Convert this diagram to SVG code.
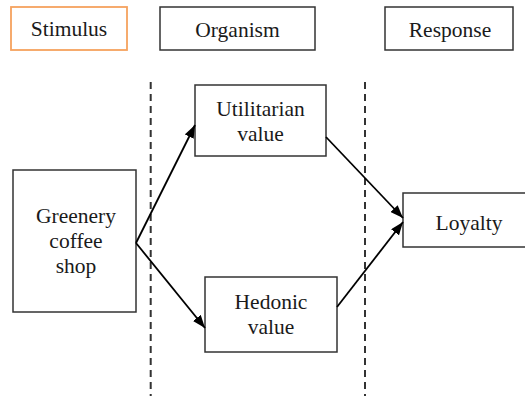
<svg xmlns="http://www.w3.org/2000/svg" width="525" height="396" viewBox="0 0 525 396">
<defs>
<style>
.box{fill:#fff;stroke:#333;stroke-width:1.5}
.dash{stroke:#333;stroke-width:2;stroke-dasharray:7 5;fill:none}
.arr{stroke:#000;stroke-width:1.8;fill:none;marker-end:url(#ah)}
</style>
<marker id="ah" viewBox="0 0 13 10" refX="13" refY="5" markerWidth="13" markerHeight="10" markerUnits="userSpaceOnUse" orient="auto">
<path d="M0,0 L13,5 L0,10 Z" fill="#000"/>
</marker>
</defs>
<g id="guides">
<line class="dash" x1="150.7" y1="82" x2="150.7" y2="396"/>
<line class="dash" x1="365" y1="82" x2="365" y2="396"/>
</g>
<g id="stimulus">
<rect x="11" y="7" width="116" height="43" fill="#fff" stroke="#f6a25e" stroke-width="1.8"/>
<text x="69" y="36" style="font-family:'Liberation Serif',serif;font-size:21.5px;fill:#1a1a1a;text-anchor:middle">Stimulus</text>
</g>
<g id="organism">
<rect class="box" x="160" y="7" width="155" height="43"/>
<text x="237.5" y="37" style="font-family:'Liberation Serif',serif;font-size:21.5px;fill:#1a1a1a;text-anchor:middle">Organism</text>
</g>
<g id="response">
<rect class="box" x="385" y="7" width="128" height="43"/>
<text x="450" y="37" style="font-family:'Liberation Serif',serif;font-size:21.5px;fill:#1a1a1a;text-anchor:middle">Response</text>
</g>
<g id="greenery">
<rect class="box" x="13" y="170" width="123" height="142"/>
<text x="76" y="223" style="font-family:'Liberation Serif',serif;font-size:21.5px;fill:#1a1a1a;text-anchor:middle">Greenery</text>
<text x="76" y="248" style="font-family:'Liberation Serif',serif;font-size:21.5px;fill:#1a1a1a;text-anchor:middle">coffee</text>
<text x="76" y="273" style="font-family:'Liberation Serif',serif;font-size:21.5px;fill:#1a1a1a;text-anchor:middle">shop</text>
</g>
<g id="utilitarian">
<rect class="box" x="195" y="85" width="131" height="71"/>
<text x="260.5" y="116" style="font-family:'Liberation Serif',serif;font-size:21.5px;fill:#1a1a1a;text-anchor:middle">Utilitarian</text>
<text x="260.5" y="141" style="font-family:'Liberation Serif',serif;font-size:21.5px;fill:#1a1a1a;text-anchor:middle">value</text>
</g>
<g id="hedonic">
<rect class="box" x="205" y="277" width="132" height="75"/>
<text x="271" y="309" style="font-family:'Liberation Serif',serif;font-size:21.5px;fill:#1a1a1a;text-anchor:middle">Hedonic</text>
<text x="271" y="334" style="font-family:'Liberation Serif',serif;font-size:21.5px;fill:#1a1a1a;text-anchor:middle">value</text>
</g>
<g id="loyalty">
<rect class="box" x="403" y="193" width="125" height="54"/>
<text x="469" y="230" style="font-family:'Liberation Serif',serif;font-size:21.5px;fill:#1a1a1a;text-anchor:middle">Loyalty</text>
</g>
<g id="connectors">
<line class="arr" x1="136" y1="243" x2="195" y2="125"/>
<line class="arr" x1="136" y1="243" x2="205" y2="328"/>
<line class="arr" x1="326" y1="137" x2="403" y2="218"/>
<line class="arr" x1="337" y1="307" x2="403" y2="222"/>
</g>
</svg>
